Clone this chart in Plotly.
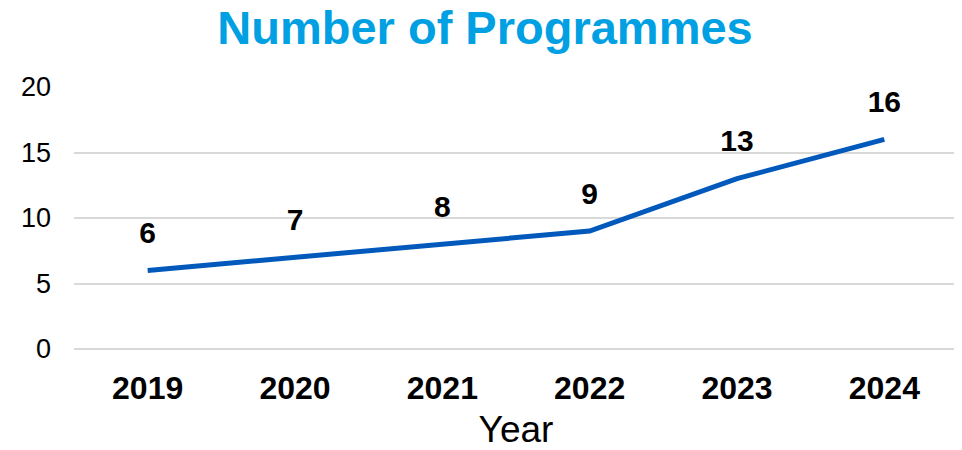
import plotly.graph_objects as go

years = ["2019", "2020", "2021", "2022", "2023", "2024"]
programmes = [6, 7, 8, 9, 13, 16]
y_ticks = [0, 5, 10, 15, 20]

FONT = "Liberation Sans, Arial, sans-serif"
Y_RANGE = [0, 20]
PLOT_H = 262  # plot-area height in px
LABEL_LIFT_PX = 35
lift = LABEL_LIFT_PX / PLOT_H * (Y_RANGE[1] - Y_RANGE[0])

fig = go.Figure()
fig.add_trace(go.Scatter(
    x=years, y=programmes, mode="lines",
    line=dict(color="#0059BB", width=5),
    hoverinfo="x+y",
))
# value labels drawn on an overlaid axis that is shifted down, so they sit above the line
fig.add_trace(go.Scatter(
    x=years, y=programmes, mode="text", yaxis="y2",
    text=["<b>%d</b>" % v for v in programmes],
    textposition="middle center",
    textfont=dict(family=FONT, size=30, color="black"),
    hoverinfo="skip", cliponaxis=False,
))

# page body has an 8px margin, so the figure is placed at (8, 8)
fig.update_layout(
    width=954, height=442,
    margin=dict(l=66, r=4, t=79, b=101),
    paper_bgcolor="white", plot_bgcolor="white",
    showlegend=False,
    title=dict(
        text="<b>Number of Programmes</b>",
        x=0.5, xanchor="center", y=0.956, yanchor="middle",
        font=dict(family=FONT, size=47, color="#00A0E3"),
    ),
    font=dict(family=FONT, color="black"),
    xaxis=dict(
        type="category", range=[-0.5, 5.5],
        showgrid=False, showline=False, zeroline=False,
        tickfont=dict(size=32, color="black", weight="bold"),
        ticklabelstandoff=17, automargin=False,
        title=dict(text="Year", font=dict(size=37, color="black"), standoff=18),
    ),
    yaxis=dict(
        range=Y_RANGE, tickvals=y_ticks,
        showgrid=True, gridcolor="#D9D9D9", gridwidth=2,
        zeroline=True, zerolinecolor="#D9D9D9", zerolinewidth=2,
        showline=False, automargin=False,
        tickfont=dict(size=27, color="black"),
        ticklabelstandoff=22,
    ),
    yaxis2=dict(
        overlaying="y", range=[Y_RANGE[0] - lift, Y_RANGE[1] - lift],
        visible=False, showgrid=False, zeroline=False,
    ),
)

fig.write_html("out.html")
